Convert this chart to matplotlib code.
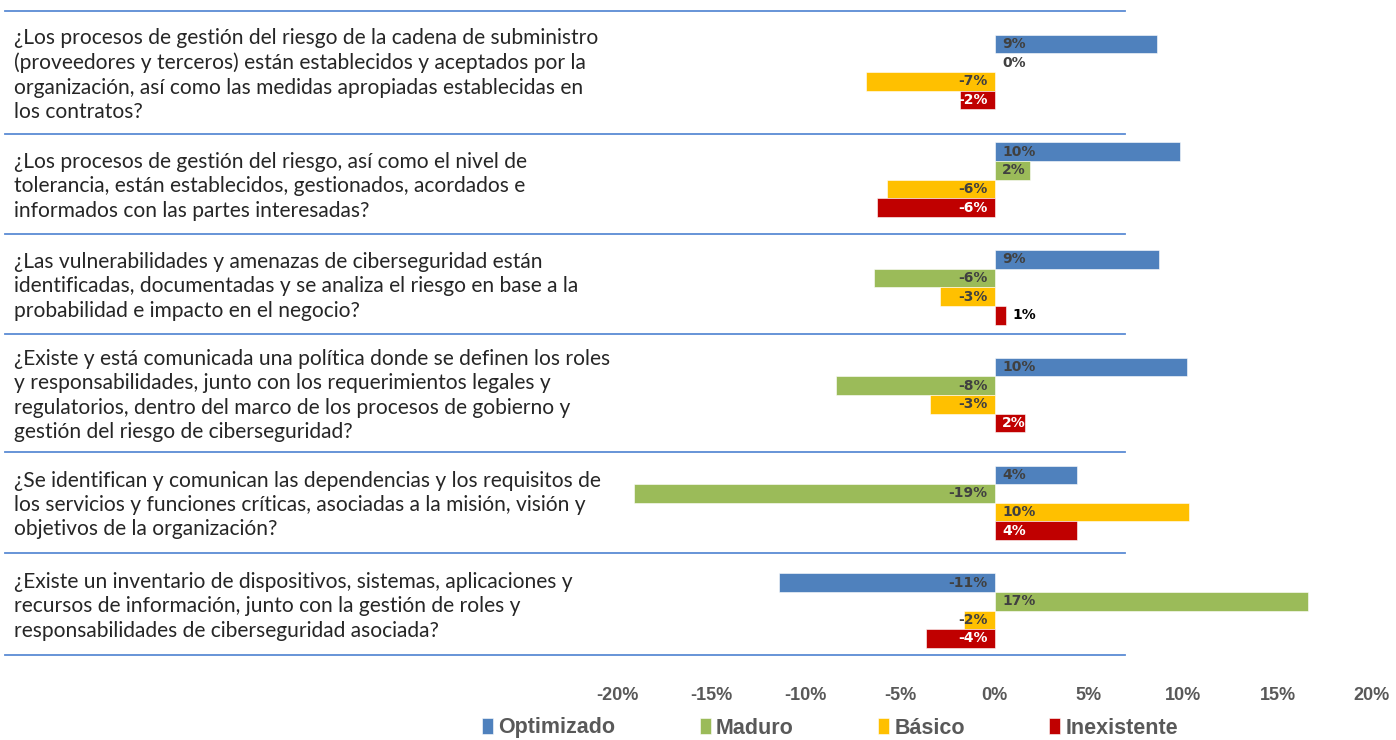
import numpy as np
import matplotlib.pyplot as plt
from matplotlib.lines import Line2D

questions = [
    "¿Los procesos de gestión del riesgo de la cadena de subministro\n(proveedores y terceros) están establecidos y aceptados por la\norganización, así como las medidas apropiadas establecidas en\nlos contratos?",
    "¿Los procesos de gestión del riesgo, así como el nivel de\ntolerancia, están establecidos, gestionados, acordados e\ninformados con las partes interesadas?",
    "¿Las vulnerabilidades y amenazas de ciberseguridad están\nidentificadas, documentadas y se analiza el riesgo en base a la\nprobabilidad e impacto en el negocio?",
    "¿Existe y está comunicada una política donde se definen los roles\ny responsabilidades, junto con los requerimientos legales y\nregulatorios, dentro del marco de los procesos de gobierno y\ngestión del riesgo de ciberseguridad?",
    "¿Se identifican y comunican las dependencias y los requisitos de\nlos servicios y funciones críticas, asociadas a la misión, visión y\nobjetivos de la organización?",
    "¿Existe un inventario de dispositivos, sistemas, aplicaciones y\nrecursos de información, junto con la gestión de roles y\nresponsabilidades de ciberseguridad asociada?",
]
series = ["Optimizado", "Maduro", "Básico", "Inexistente"]
optimizado = [8.6, 9.85, 8.7, 10.2, 4.35, -11.4]
maduro = [0.0, 1.9, -6.4, -8.4, -19.1, 16.6]
basico = [-6.8, -5.7, -2.9, -3.4, 10.3, -1.6]
inexistente = [-1.85, -6.2, 0.6, 1.6, 4.35, -3.65]
xticks = [-20, -15, -10, -5, 0, 5, 10, 15, 20]

colors = ["#4F81BD", "#9BBB59", "#FFC000", "#C00000"]
label_colors = ["#404040", "#404040", "#404040", "white"]

W, H = 1396, 740
fig = plt.figure(figsize=(W / 100, H / 100), dpi=100)
ax = fig.add_axes([617 / W, 85 / H, 755 / W, 644 / H])

cond = ['Liberation Sans', 'DejaVu Sans']
h = 0.173
y0 = np.arange(len(questions))
bars = []
for j, vals in enumerate([optimizado, maduro, basico, inexistente]):
    y = y0 + (j - 1.5) * h
    b = ax.barh(y, vals, height=h, color=colors[j], edgecolor='white',
                linewidth=0.4, label=series[j])
    bars.append(b)
    for yy, v in zip(y, vals):
        txt = "%d%%" % round(v)
        kw = dict(va='center', fontsize=10, fontweight='bold',
                  family='DejaVu Sans', textcoords='offset points')
        if abs(v) < 1 and v != 0:
            ax.annotate(txt, (v, yy), xytext=(5, 0), ha='left', color='black', **kw)
        elif v >= 0:
            ax.annotate(txt, (0, yy), xytext=(5.5, 0), ha='left',
                        color=label_colors[j], **kw)
        else:
            ax.annotate(txt, (0, yy), xytext=(-5, 0), ha='right',
                        color=label_colors[j], **kw)

ax.set_xlim(-20, 20)
ax.set_ylim(5.413, -0.566)
ax.set_xticks(xticks)
ax.set_xticklabels(["%d%%" % t for t in xticks], family=cond, fontweight='bold',
                   fontsize=13, color='#595959')
ax.tick_params(axis='x', length=0, pad=23)
ax.set_yticks([])
for s in ax.spines.values():
    s.set_visible(False)

# table separators and question texts
seps = [11, 134, 234, 334, 452, 553, 655]
for p in seps:
    fig.add_artist(Line2D([5 / W, 1125 / W], [1 - p / H, 1 - p / H],
                          color='#5B8BD4', lw=1.3))
for i, q in enumerate(questions):
    yc = (seps[i] + seps[i + 1]) / 2 + 2.5
    fig.text(14 / W, 1 - yc / H, q, ha='left', va='center', fontsize=15.1,
             family='Lato', color='#262626', linespacing=1.27)

fig.legend(handles=bars, labels=series, loc='center', ncol=4,
           bbox_to_anchor=(830 / W, 1 - 728 / H), frameon=False,
           prop={'family': cond, 'weight': 'bold', 'size': 15.5},
           labelcolor='#595959', handlelength=0.52, handleheight=0.75,
           handletextpad=0.25, columnspacing=3.9, borderpad=0)

fig.savefig("out.png", dpi=100)
